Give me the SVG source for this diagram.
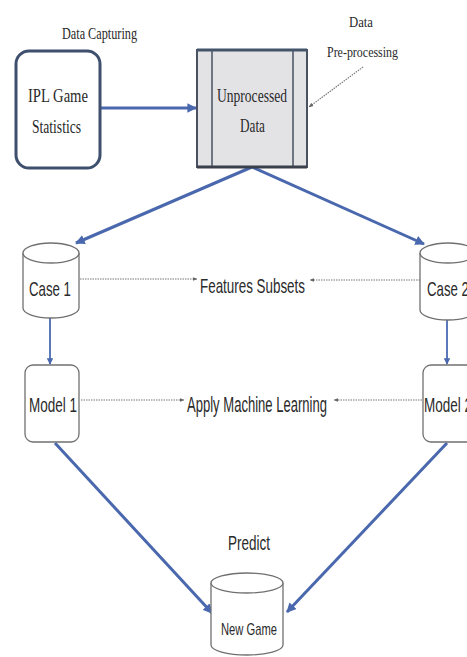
<svg xmlns="http://www.w3.org/2000/svg" width="467" height="657" viewBox="0 0 467 657">
<defs>
<marker id="ab" viewBox="0 0 10 10" refX="9" refY="5" markerWidth="3.2" markerHeight="3.2" orient="auto" markerUnits="strokeWidth"><path d="M0,0 L10,5 L0,10 Z" fill="#4a68ad"/></marker>
<marker id="ag" viewBox="0 0 10 10" refX="9" refY="5" markerWidth="4" markerHeight="4" orient="auto"><path d="M0,1 L10,5 L0,9 Z" fill="#666"/></marker>
<style>
.serif{font-family:"Liberation Serif","Times New Roman",serif;fill:#2a2a2a}
.sans{font-family:"Liberation Sans",Arial,sans-serif;fill:#2a2a2a}
.blue{stroke:#4a68ad;stroke-width:3;fill:none}
.blue2{stroke:#5b78b8;stroke-width:2;fill:none}
.dot{stroke:#777;stroke-width:1.2;stroke-dasharray:1.5 1;fill:none}
.cyl{fill:#fff;stroke:#707070;stroke-width:1.3}
</style>
</defs>
<rect width="467" height="657" fill="#fff"/>
<g id="labels">
<text class="serif" x="62" y="39" font-size="16" textLength="75" lengthAdjust="spacingAndGlyphs">Data Capturing</text>
<text class="serif" x="349" y="27" font-size="15" textLength="24" lengthAdjust="spacingAndGlyphs">Data</text>
<text class="serif" x="327" y="57" font-size="15" textLength="71" lengthAdjust="spacingAndGlyphs">Pre-processing</text>
<text class="sans" x="200" y="293" font-size="21" textLength="105" lengthAdjust="spacingAndGlyphs">Features Subsets</text>
<text class="sans" x="187" y="412" font-size="22" textLength="140" lengthAdjust="spacingAndGlyphs">Apply Machine Learning</text>
<text class="sans" x="228" y="550" font-size="21" textLength="42" lengthAdjust="spacingAndGlyphs">Predict</text>
</g>
<g id="connectors">
<line class="blue" x1="101" y1="108" x2="196" y2="108" marker-end="url(#ab)"/>
<line class="blue" x1="252" y1="167" x2="76" y2="243" marker-end="url(#ab)"/>
<line class="blue" x1="252" y1="167" x2="424" y2="244" marker-end="url(#ab)"/>
<line class="blue2" x1="50" y1="318" x2="50" y2="364" marker-end="url(#ab)"/>
<line class="blue2" x1="447" y1="320" x2="447" y2="364" marker-end="url(#ab)"/>
<line class="blue" x1="55" y1="443" x2="212" y2="613" marker-end="url(#ab)"/>
<line class="blue" x1="447" y1="443" x2="287" y2="612" marker-end="url(#ab)"/>
<line class="dot" x1="363" y1="67" x2="309" y2="107" marker-end="url(#ag)"/>
<line class="dot" x1="80" y1="279" x2="197" y2="279" marker-end="url(#ag)"/>
<line class="dot" x1="420" y1="280" x2="310" y2="280" marker-end="url(#ag)"/>
<line class="dot" x1="81" y1="400" x2="184" y2="400" marker-end="url(#ag)"/>
<line class="dot" x1="422" y1="400" x2="334" y2="400" marker-end="url(#ag)"/>
</g>
<g id="ipl">
<rect x="16" y="51" width="84" height="117" rx="13" fill="#fff" stroke="#3f4f6e" stroke-width="3"/>
<text class="serif" x="28" y="102" font-size="19" textLength="60" lengthAdjust="spacingAndGlyphs">IPL Game</text>
<text class="serif" x="32" y="133" font-size="18" textLength="49" lengthAdjust="spacingAndGlyphs">Statistics</text>
</g>
<g id="unprocessed">
<rect x="197" y="50" width="110" height="117" fill="#e3e3e6" stroke="#4a5163" stroke-width="2"/>
<line x1="212" y1="50" x2="212" y2="167" stroke="#4a5163" stroke-width="1.5"/>
<line x1="293" y1="50" x2="293" y2="167" stroke="#4a5163" stroke-width="1.5"/>
<line x1="197" y1="50" x2="307" y2="50" stroke="#44546a" stroke-width="3"/>
<line x1="197" y1="167" x2="307" y2="167" stroke="#3a3f4a" stroke-width="3"/>
<text class="serif" x="217" y="102" font-size="18" textLength="70" lengthAdjust="spacingAndGlyphs">Unprocessed</text>
<text class="serif" x="240" y="132" font-size="18" textLength="25" lengthAdjust="spacingAndGlyphs">Data</text>
</g>
<g id="case1">
<path class="cyl" d="M23,253 A28,10 0 0 1 79,253 L79,308 A28,10 0 0 1 23,308 Z"/>
<path class="cyl" fill="none" d="M23,253 A28,10 0 0 0 79,253"/>
<text class="sans" x="29" y="296" font-size="21" textLength="42" lengthAdjust="spacingAndGlyphs">Case 1</text>
</g>
<g id="case2">
<path class="cyl" d="M420,253 A28,10 0 0 1 476,253 L476,310 A28,10 0 0 1 420,310 Z"/>
<path class="cyl" fill="none" d="M420,253 A28,10 0 0 0 476,253"/>
<text class="sans" x="427" y="296" font-size="21" textLength="42" lengthAdjust="spacingAndGlyphs">Case 2</text>
</g>
<g id="model1">
<rect x="25" y="365" width="54" height="77" rx="8" fill="#fff" stroke="#707070" stroke-width="1.3"/>
<text class="sans" x="29" y="412" font-size="21" textLength="48" lengthAdjust="spacingAndGlyphs">Model 1</text>
</g>
<g id="model2">
<rect x="423" y="365" width="54" height="77" rx="8" fill="#fff" stroke="#707070" stroke-width="1.3"/>
<text class="sans" x="424" y="412" font-size="21" textLength="48" lengthAdjust="spacingAndGlyphs">Model 2</text>
</g>
<g id="newgame">
<path class="cyl" d="M211,583 A36,10 0 0 1 283,583 L283,645 A36,10 0 0 1 211,645 Z"/>
<path class="cyl" fill="none" d="M211,583 A36,10 0 0 0 283,583"/>
<text class="sans" x="221" y="635" font-size="17" textLength="56" lengthAdjust="spacingAndGlyphs">New Game</text>
</g>
</svg>
